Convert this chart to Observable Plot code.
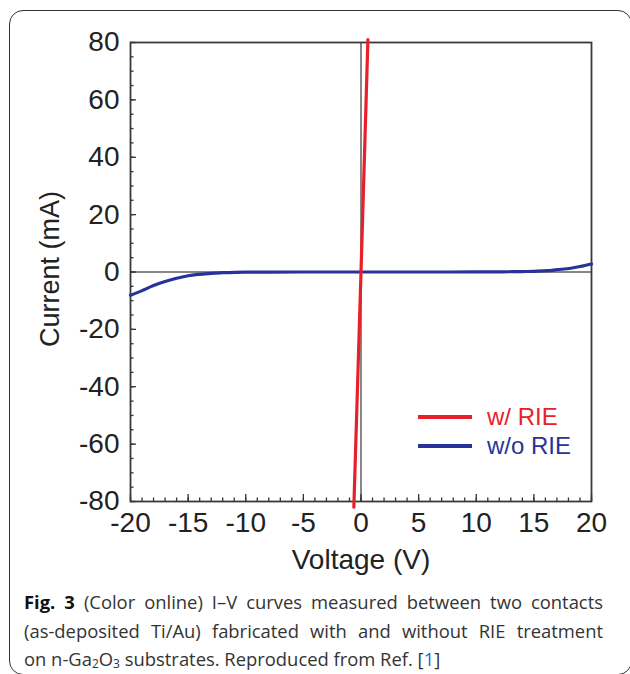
<!DOCTYPE html>
<html>
<head>
<meta charset="utf-8">
<script src="https://cdn.jsdelivr.net/npm/d3@7"></script>
<script src="https://cdn.jsdelivr.net/npm/@observablehq/plot@0.6"></script>
<style>
  body { margin: 0; background: #fff; }
  #wrap { position: relative; width: 630px; height: 674px; overflow: hidden; background: #fff; }
  #box { position: absolute; left: 9px; top: 10px; width: 623px; height: 665px; box-sizing: border-box;
         border: 1.6px solid #333; border-radius: 14px; }
  #chart { position: absolute; left: 0; top: 0; }
  #legend { position: absolute; left: 0; top: 0; font-family: "Liberation Sans", Arial, sans-serif; font-size: 24px; }
  .item { position: absolute; left: 418px; height: 30px; display: flex; align-items: center; white-space: nowrap; }
  .swatch { width: 54px; height: 3.5px; margin-right: 15px; flex: none; }
  #caption { position: absolute; left: 24px; top: 588px; width: 579px; font-family: "Open Sans", sans-serif;
             font-size: 18.4px; line-height: 28.5px; color: #333; }
  #caption div { white-space: nowrap; }
  #caption .full { text-align: justify; text-align-last: justify; }
  #caption b { color: #111; }
  #caption a { color: #2b5fd0; text-decoration: none; }
  #caption sub { font-size: 12px; line-height: 0; vertical-align: -0.15em; }
</style>
</head>
<body>
<div id="wrap">
  <div id="box"></div>
  <div id="chart"></div>
  <div id="legend"></div>
  <div id="caption">
    <div class="full"><b>Fig. 3</b> (Color online) I–V curves measured between two contacts</div>
    <div class="full">(as-deposited Ti/Au) fabricated with and without RIE treatment</div>
    <div>on n-Ga<sub>2</sub>O<sub>3</sub> substrates. Reproduced from Ref. [<a>1</a>]</div>
  </div>
</div>
<script>
// I–V sweep without RIE treatment (voltage in V, current in mA)
const woVoltage = [-20, -19, -18, -17, -16, -15, -14, -13, -12, -11, -10, -5, 0, 5, 10, 12, 13.2, 14, 15, 16.2, 17, 18.2, 19, 20];
const woCurrent = [-8.1, -6.5, -4.7, -3.3, -2.2, -1.3, -0.8, -0.45, -0.25, -0.1, -0.05, 0, 0, 0, 0.03, 0.06, 0.1, 0.15, 0.25, 0.45, 0.8, 1.3, 1.9, 2.8];

// I–V sweep with RIE treatment (ohmic, nearly vertical)
const wVoltage = [-0.62, 0, 0.6];
const wCurrent = [-82, 0, 81];

const xMajor = [-20, -15, -10, -5, 0, 5, 10, 15, 20];
const xMinor = d3.range(-20, 21, 1);
const yMajor = [-80, -60, -40, -20, 0, 20, 40, 60, 80];
const yMinor = d3.range(-80, 81, 5);

const series = [
  {name: "w/ RIE", color: "#e8202a"},
  {name: "w/o RIE", color: "#27339a"}
];

const woRIE = woVoltage.map((v, i) => ({v, i: woCurrent[i]}));
const wRIE = wVoltage.map((v, i) => ({v, i: wCurrent[i]}));

const font = "'Liberation Sans', Arial, sans-serif";
const fmt = d => String(d);

const chart = Plot.plot({
  width: 630,
  height: 580,
  marginLeft: 130,
  marginRight: 39,
  marginTop: 42,
  marginBottom: 79,
  style: {fontFamily: font, color: "#222", background: "transparent", overflow: "visible"},
  x: {domain: [-20, 20]},
  y: {domain: [-80, 80]},
  marks: [
    Plot.ruleX([0], {stroke: "#111", strokeWidth: 1}),
    Plot.ruleY([0], {stroke: "#111", strokeWidth: 1}),
    // inward minor and major ticks
    Plot.axisX({ticks: xMinor, tickSize: -3.5, tickFormat: () => "", label: null, stroke: "#333", strokeWidth: 1.3}),
    Plot.axisX({ticks: xMajor, tickSize: -7, tickFormat: () => "", label: null, stroke: "#333", strokeWidth: 1.3}),
    Plot.axisY({ticks: yMinor, tickSize: -3.5, tickFormat: () => "", label: null, stroke: "#333", strokeWidth: 1.3}),
    Plot.axisY({ticks: yMajor, tickSize: -6, tickFormat: () => "", label: null, stroke: "#333", strokeWidth: 1.3}),
    // tick labels
    Plot.axisX({ticks: xMajor, tickSize: 0, tickPadding: 11, tickFormat: fmt, label: null, fontSize: 28, fill: "#222"}),
    Plot.axisY({ticks: yMajor, tickSize: 0, tickPadding: 11, tickFormat: fmt, label: null, fontSize: 28, fill: "#222"}),
    Plot.frame({stroke: "#3a3a3a", strokeWidth: 1.8}),
    // axis titles
    Plot.text(["Voltage (V)"], {frameAnchor: "bottom", dy: 59, textAnchor: "middle", lineAnchor: "middle",
      fontSize: 28, fill: "#222", text: d => d}),
    Plot.text(["Current (mA)"], {frameAnchor: "left", dx: -80, dy: -3, rotate: -90, textAnchor: "middle", lineAnchor: "middle",
      fontSize: 27, fill: "#222", text: d => d}),
    // curves
    Plot.line(woRIE, {x: "v", y: "i", stroke: series[1].color, strokeWidth: 3.2, curve: "monotone-x"}),
    Plot.line(wRIE, {x: "v", y: "i", stroke: series[0].color, strokeWidth: 3.2})
  ]
});
document.getElementById("chart").appendChild(chart);

// legend drawn inside the plot area
const legend = document.getElementById("legend");
series.forEach((s, k) => {
  const item = document.createElement("div");
  item.className = "item";
  item.style.top = (402 + k * 29) + "px";
  item.innerHTML = `<div class="swatch" style="background:${s.color}"></div><span style="color:${s.color}">${s.name}</span>`;
  legend.appendChild(item);
});
</script>
</body>
</html>
